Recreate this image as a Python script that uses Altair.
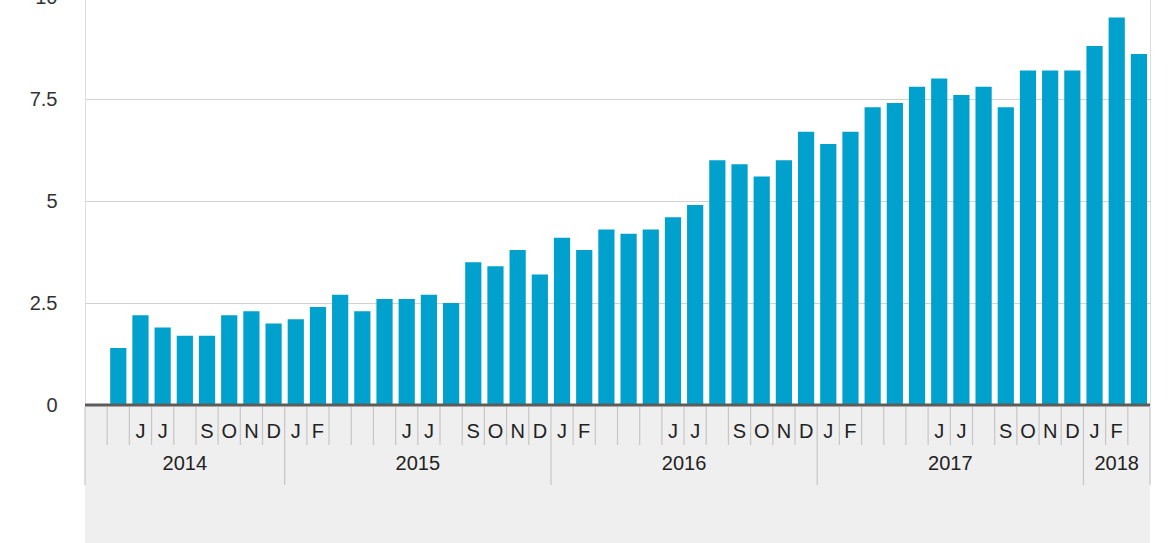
import altair as alt
import pandas as pd

# ---------------- data ----------------
years = [2014, 2015, 2016, 2017, 2018]
first_month = [4, 1, 1, 1, 1]
last_month = [12, 12, 12, 12, 3]
month_letters = ["J", "F", "", "", "", "J", "J", "", "S", "O", "N", "D"]

values_2014 = [None, 1.4, 2.2, 1.9, 1.7, 1.7, 2.2, 2.3, 2.0]          # Apr-Dec
values_2015 = [2.1, 2.4, 2.7, 2.3, 2.6, 2.6, 2.7, 2.5, 3.5, 3.4, 3.8, 3.2]
values_2016 = [4.1, 3.8, 4.3, 4.2, 4.3, 4.6, 4.9, 6.0, 5.9, 5.6, 6.0, 6.7]
values_2017 = [6.4, 6.7, 7.3, 7.4, 7.8, 8.0, 7.6, 7.8, 7.3, 8.2, 8.2, 8.2]
values_2018 = [8.8, 9.5, 8.6]                                           # Jan-Mar
year_values = [values_2014, values_2015, values_2016, values_2017, values_2018]

y_ticks = [0, 2.5, 5, 7.5, 10]

# ---------------- build tables ----------------
rows = []
idx = 0
year_rows = []
boundaries_long = []
for y, m0, m1, vals in zip(years, first_month, last_month, year_values):
    start = idx
    boundaries_long.append(start)
    for m, v in zip(range(m0, m1 + 1), vals):
        rows.append({"key": f"{y}-{m:02d}", "idx": idx, "mid": idx + 0.5,
                     "letter": month_letters[m - 1], "value": v, "year": y})
        idx += 1
    year_rows.append({"year": str(y), "center": (start + idx) / 2})
N = idx
boundaries_long.append(N)

df = pd.DataFrame(rows)
df_bars = df.dropna(subset=["value"])
df_years = pd.DataFrame(year_rows)
df_short = df[~df["idx"].isin(boundaries_long)]
df_long = pd.DataFrame({"idx": boundaries_long})
keys = list(df["key"])

# ---------------- layout / style ----------------
W, H = 1065, 408
PAD_L, PAD_T = 85, -3
FONT = "Liberation Sans"
BAR = "#00a1cd"
BAND = "#efefef"
SEP = "#c6c6c6"


def py(page_y):
    return page_y - PAD_T


qx = alt.Scale(domain=[0, N], nice=False, zero=False)
one = pd.DataFrame({"a": [0]})

band_bg = alt.Chart(one).mark_rect(color=BAND).encode(
    x=alt.value(0), x2=alt.value(W), y=alt.value(py(406)), y2=alt.value(py(560))
)

bars = alt.Chart(df_bars).mark_bar(color=BAR).encode(
    x=alt.X("key:O", scale=alt.Scale(domain=keys, paddingInner=0.27, paddingOuter=0.135), axis=None),
    y=alt.Y(
        "value:Q",
        scale=alt.Scale(domain=[0, 10], nice=False),
        axis=alt.Axis(
            values=y_ticks, format=".1~f", grid=True, gridColor="#d2d2d2", gridWidth=1,
            domain=False, ticks=False, labelPadding=28, labelFontSize=20,
            labelFont=FONT, labelColor="#333333", title=None,
        ),
    ),
)

baseline = alt.Chart(one).mark_rule(color="#5e5b5b", strokeWidth=3).encode(
    x=alt.value(0), x2=alt.value(W), y=alt.datum(0)
)

short_sep = alt.Chart(df_short).mark_rule(color=SEP, strokeWidth=1.2).encode(
    x=alt.X("idx:Q", scale=qx, axis=None), y=alt.value(py(407)), y2=alt.value(py(445))
)
long_sep = alt.Chart(df_long).mark_rule(color=SEP, strokeWidth=1.2).encode(
    x=alt.X("idx:Q", scale=qx, axis=None), y=alt.value(py(407)), y2=alt.value(py(485))
)

month_text = alt.Chart(df).mark_text(
    font=FONT, fontSize=20, color="#222222", baseline="middle", align="center"
).encode(
    x=alt.X("mid:Q", scale=qx, axis=None), y=alt.value(py(432)), text="letter:N"
)

year_text = alt.Chart(df_years).mark_text(
    font=FONT, fontSize=20, color="#222222", baseline="middle", align="center"
).encode(
    x=alt.X("center:Q", scale=qx, axis=None), y=alt.value(py(464)), text="year:N"
)

chart = alt.layer(
    band_bg, bars, baseline, short_sep, long_sep, month_text, year_text
).resolve_scale(x="independent").properties(
    width=W, height=H,
    autosize=alt.AutoSizeParams(type="none"),
    padding={"left": PAD_L, "top": PAD_T, "right": 1170 - PAD_L - W, "bottom": 543 - PAD_T - H},
).configure_view(stroke=None).configure(background="white")

chart.save("out.html", embed_options={"renderer": "svg", "actions": False})
